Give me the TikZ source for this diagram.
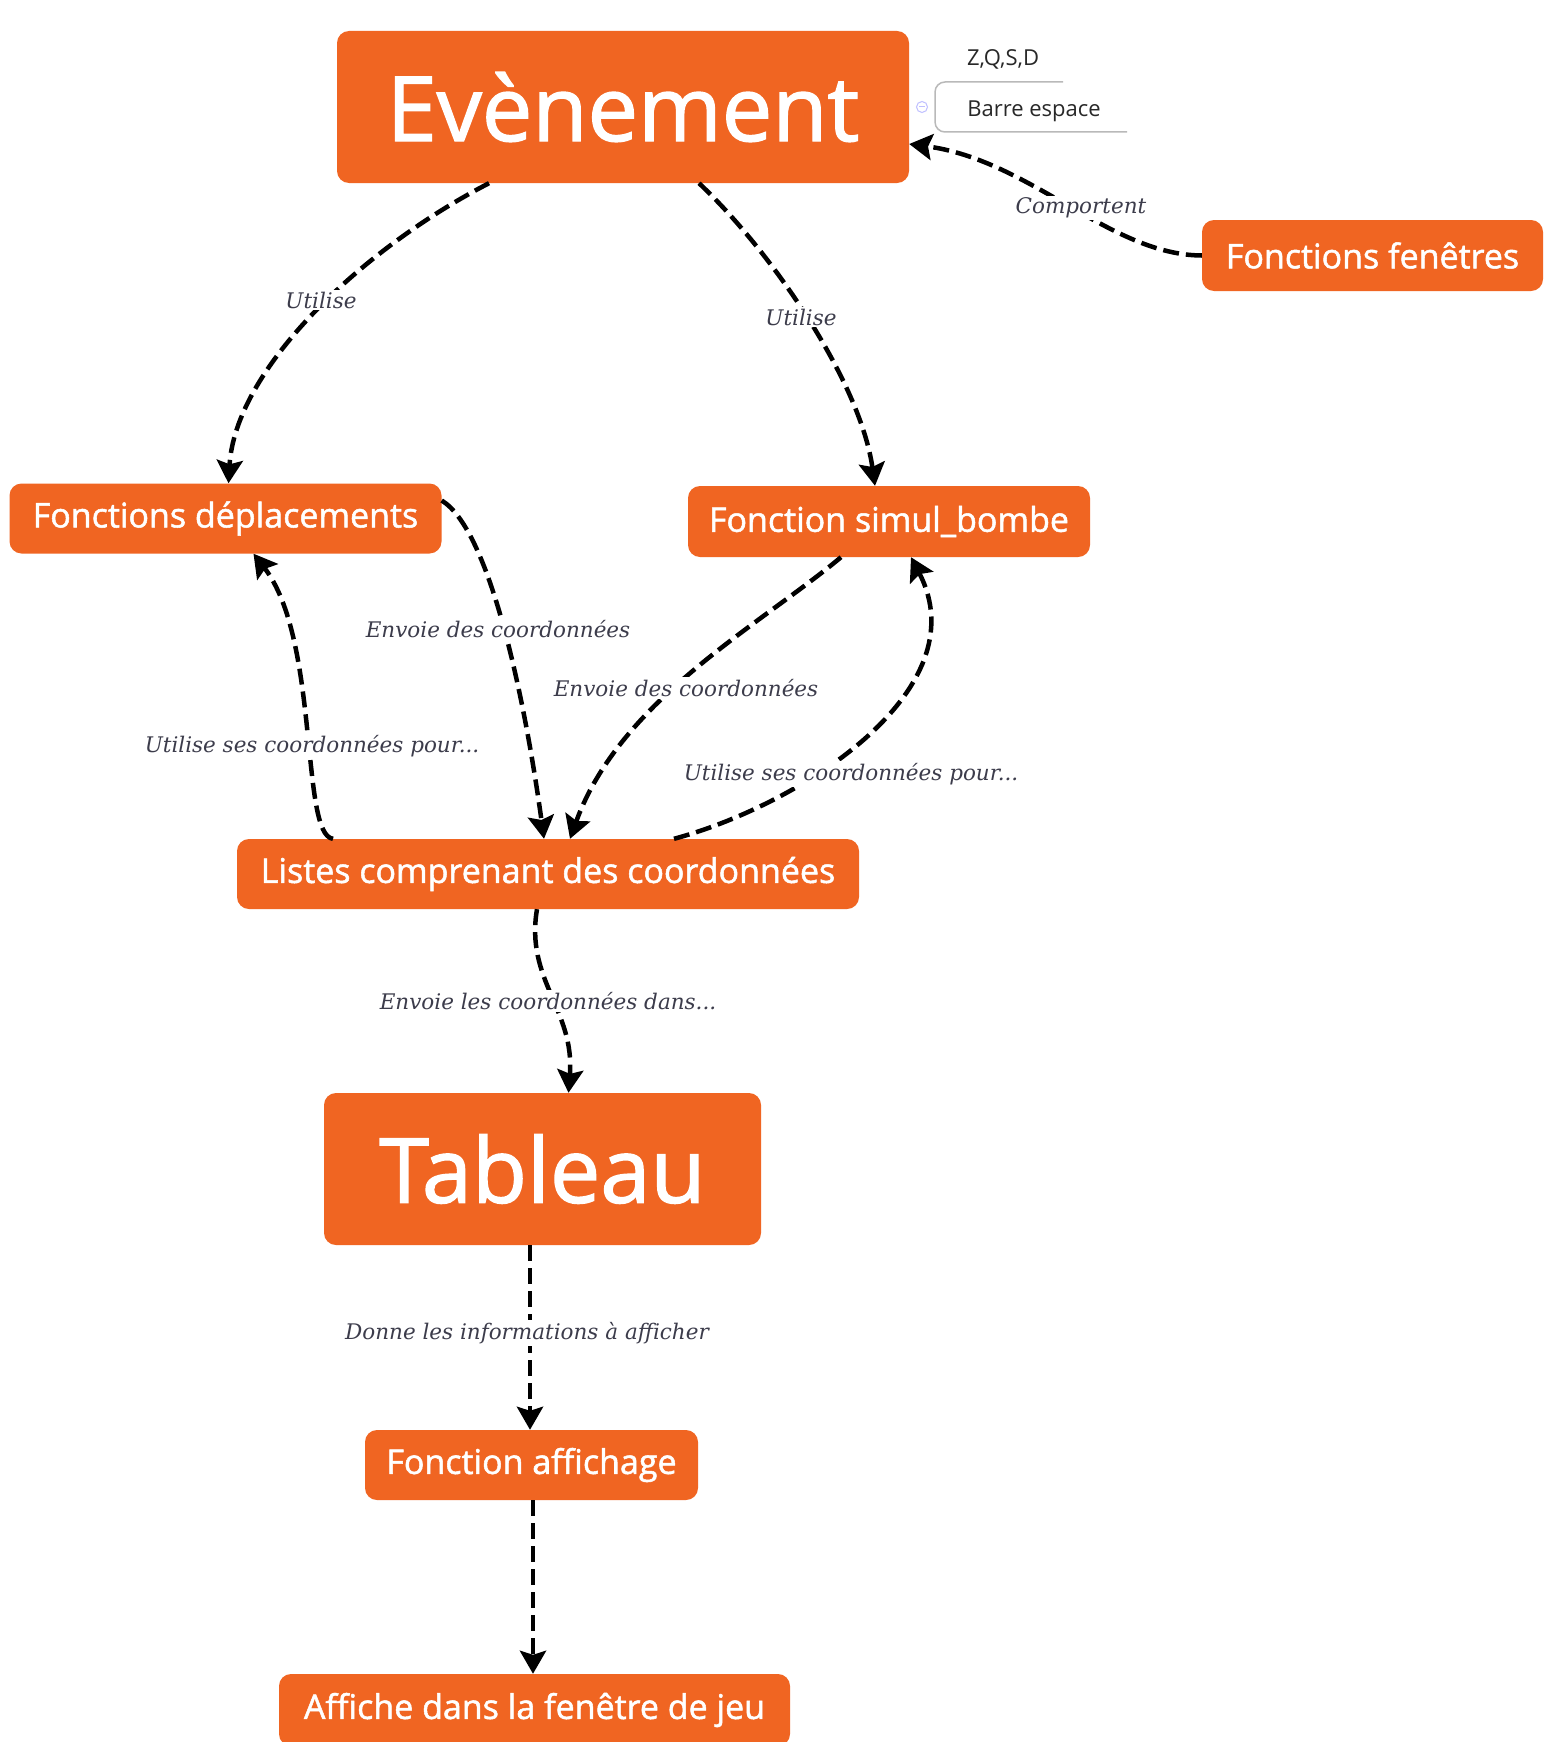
\documentclass[tikz,border=0pt]{standalone}
\usepackage{fontspec}
\setsansfont{Open Sans}
\newfontfamily\nodefont{Open Sans}[FakeBold=1.5]
\newfontfamily\lblfont{DejaVu Serif}
\usetikzlibrary{arrows.meta}
\definecolor{nodeorange}{RGB}{240,101,34}
\definecolor{lblgray}{RGB}{60,60,75}
\definecolor{notegray}{RGB}{40,40,40}
\begin{document}
\begin{tikzpicture}[x=1pt,y=-1pt,
  obox/.style 2 args={fill=nodeorange, rounded corners=12pt, text=white, inner sep=0pt,
    minimum width=#1, minimum height=#2, align=center},
  smalltxt/.style={font=\nodefont\fontsize{34}{37}\selectfont},
  bigtxt/.style={font=\nodefont\fontsize{90}{93}\selectfont},
  conn/.style={line width=4.5pt, dash pattern=on 16pt off 7pt,
    -{Stealth[length=23pt,width=26pt,inset=4pt]}},
  lbl/.style={fill=white, inner sep=2pt, text=lblgray,
    font=\lblfont\itshape\fontsize{21.5}{24}\selectfont},
  note/.style={text=notegray, inner sep=1pt, font=\sffamily\fontsize{22}{25}\selectfont}
]
\useasboundingbox (0,0) rectangle (1544,1742);
\fill[white] (0,0) rectangle (1544,1742);

% nodes
\node[obox={572pt}{152pt}, bigtxt] (ev) at (623,107) {Evènement};
\node[obox={341pt}{71pt}, smalltxt] (fen) at (1372.5,255.5) {Fonctions fenêtres};
\node[obox={432pt}{70pt}, smalltxt] (dep) at (225.5,518.5) {Fonctions déplacements};
\node[obox={402pt}{71pt}, smalltxt] (bom) at (889,521.5) {Fonction simul\_bombe};
\node[obox={622pt}{70pt}, smalltxt] (lis) at (548,874) {Listes comprenant des coordonnées};
\node[obox={437pt}{152pt}, bigtxt] (tab) at (542.5,1169) {Tableau};
\node[obox={333pt}{70pt}, smalltxt] (aff) at (531.5,1465) {Fonction affichage};
\begin{scope}
\clip (0,0) rectangle (1544,1742);
\node[obox={511pt}{72pt}, smalltxt] (win) at (534.5,1710) {Affiche dans la fenêtre de jeu};
\end{scope}

% notes attached to Evènement
\node[note] (zqsd) at (1003,59) {Z,Q,S,D};
\node[note] (barre) at (1034,111) {Barre espace};
\draw[gray!55, line width=1.5pt] (1063,82) -- (945,82) arc[start angle=90,end angle=180,radius=10pt]
  -- (935,122) arc[start angle=180,end angle=270,radius=10pt] -- (1127,132);
\node[circle, draw=blue!25, line width=1pt, minimum size=11pt, inner sep=0pt] (toggle) at (922,107) {};
\draw[blue!25, line width=1pt] ([xshift=-3pt]toggle.center) -- ([xshift=3pt]toggle.center);

% connectors
\draw[conn] ([xshift=-134pt]ev.south) .. controls (360,250) and (235,370) .. ([xshift=3pt]dep.north);
\draw[conn] ([xshift=76pt]ev.south) .. controls (770,250) and (860,380) .. ([xshift=-14pt]bom.north);
\draw[conn] (fen.west) .. controls (1110,255) and (1030,160) .. ([yshift=-37pt]ev.east);
\draw[conn] ([yshift=18pt]dep.east) .. controls (490,530) and (525,700) .. ([xshift=-4pt]lis.north);
\draw[conn] ([xshift=-48pt]bom.south) .. controls (760,625) and (620,700) .. ([xshift=22pt]lis.north);
\draw[conn] ([xshift=-215pt]lis.north) .. controls (300,835) and (320,640) .. ([xshift=28pt]dep.south);
\draw[conn] ([xshift=126pt]lis.north) .. controls (800,805) and (980,690) .. ([xshift=22pt]bom.south);
\draw[conn] ([xshift=-11pt]lis.south) .. controls (525,980) and (575,1010) .. ([xshift=26pt]tab.north);
\draw[conn] ([xshift=-12.5pt]tab.south) -- ([xshift=-1.5pt]aff.north);
\draw[conn] ([xshift=1.5pt]aff.south) -- ([xshift=-1.5pt]win.north);

% connector labels
\node[lbl] (l1) at (1081,208) {Comportent};
\node[lbl] (l2) at (321,300) {Utilise};
\node[lbl] (l3) at (801,317) {Utilise};
\node[lbl] (l4) at (498,629) {Envoie des coordonnées};
\node[lbl] (l5) at (686,688) {Envoie des coordonnées};
\node[lbl] (l6) at (312,746) {Utilise ses coordonnées pour...};
\node[lbl] (l7) at (851,774) {Utilise ses coordonnées pour...};
\node[lbl] (l8) at (548,1001) {Envoie les coordonnées dans...};
\node[lbl] (l9) at (527,1333) {Donne les informations à afficher};
\end{tikzpicture}
\end{document}
